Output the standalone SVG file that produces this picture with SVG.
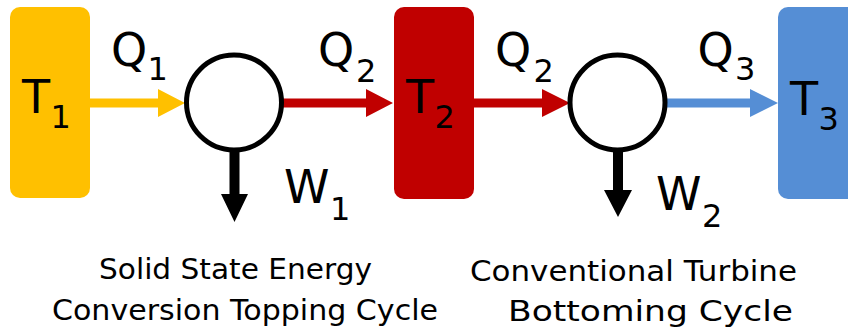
<svg xmlns="http://www.w3.org/2000/svg" width="848" height="333" viewBox="0 0 848 333">
<style>
.lbl{font-family:"DejaVu Sans",sans-serif;font-size:46px;fill:#000}
.s{font-size:32px}
.cap{font-family:"DejaVu Sans",sans-serif;font-size:29px;fill:#000;text-anchor:middle}
.eng{fill:#fff;stroke:#000;stroke-width:5}
</style>
<rect width="848" height="333" fill="#fff"/>
<g id="connectors">
<polygon fill="#FFC000" points="90,98.5 158,98.5 158,89 185,103 158,117 158,107.5 90,107.5"/>
<polygon fill="#C00000" points="282,98.5 366,98.5 366,89 393,103 366,117 366,107.5 282,107.5"/>
<polygon fill="#C00000" points="474,98.5 542,98.5 542,89 570,103 542,117 542,107.5 474,107.5"/>
<polygon fill="#558ED5" points="666,98.5 750,98.5 750,89 778,103 750,117 750,107.5 666,107.5"/>
<polygon fill="#000" points="229.5,150 239.5,150 239.5,194 248,194 234.5,222 221,194 229.5,194"/>
<polygon fill="#000" points="613,150 623,150 623,190 632,190 618,217 604,190 613,190"/>
</g>
<g id="T1">
<rect x="10" y="7" width="80" height="191" rx="10" fill="#FFC000"/>
<text class="lbl" x="22" y="113">T<tspan class="s" x="50.5" y="128">1</tspan></text>
</g>
<g id="T2">
<rect x="394" y="7" width="80" height="192" rx="10" fill="#C00000"/>
<text class="lbl" x="406" y="113">T<tspan class="s" x="434.5" y="128">2</tspan></text>
</g>
<g id="T3">
<rect x="778" y="7" width="90" height="192" rx="10" fill="#558ED5"/>
<text class="lbl" x="790" y="115">T<tspan class="s" x="818.5" y="130">3</tspan></text>
</g>
<g id="engine1">
<circle class="eng" cx="234" cy="102.5" r="47.5"/>
</g>
<g id="engine2">
<circle class="eng" cx="617.5" cy="102.5" r="47.5"/>
</g>
<g id="labels">
<text class="lbl" x="111" y="66">Q<tspan class="s" x="147.5" y="80">1</tspan></text>
<text class="lbl" x="318" y="66">Q<tspan class="s" x="356" y="82">2</tspan></text>
<text class="lbl" x="495" y="66">Q<tspan class="s" x="533.5" y="82">2</tspan></text>
<text class="lbl" x="697.5" y="66">Q<tspan class="s" x="735" y="80">3</tspan></text>
<text class="lbl" x="284" y="203">W<tspan class="s" x="330" y="220">1</tspan></text>
<text class="lbl" x="656" y="210">W<tspan class="s" x="702" y="227">2</tspan></text>
</g>
<g id="captions">
<text class="cap" x="235.5" y="279" textLength="273" lengthAdjust="spacingAndGlyphs">Solid State Energy</text>
<text class="cap" x="245" y="320" textLength="386" lengthAdjust="spacingAndGlyphs">Conversion Topping Cycle</text>
<text class="cap" x="633.5" y="281" textLength="327" lengthAdjust="spacingAndGlyphs">Conventional Turbine</text>
<text class="cap" x="650.5" y="321" textLength="285" lengthAdjust="spacingAndGlyphs">Bottoming Cycle</text>
</g>
</svg>
